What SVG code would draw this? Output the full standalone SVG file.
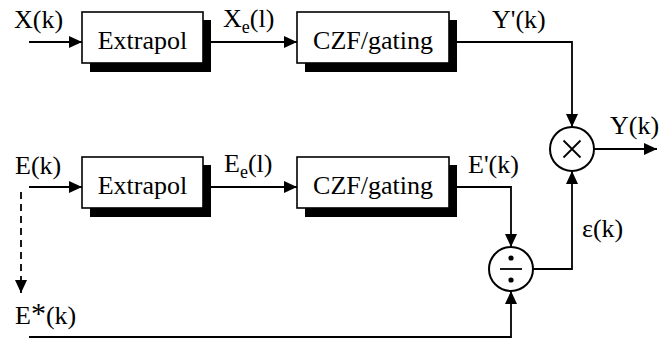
<svg xmlns="http://www.w3.org/2000/svg" width="669" height="341" viewBox="0 0 669 341">
<style>
text{font-family:'Liberation Serif','Times New Roman',serif;font-size:26px;fill:#000}
.box{fill:#fff;stroke:#000;stroke-width:1.6}
.sh{fill:#000}
.ln{fill:none;stroke:#000;stroke-width:1.8}
.cir{fill:#fff;stroke:#000;stroke-width:2}
.c{text-anchor:middle}
</style>
<defs>
<marker id="ah" markerUnits="userSpaceOnUse" markerWidth="14" markerHeight="12" refX="13" refY="6" orient="auto">
<path d="M0,0 L13,6 L0,12 Z" fill="#000"/>
</marker>
</defs>
<rect width="669" height="341" fill="#fff"/>
<g id="connectors">
<path class="ln" d="M29,42 H82" marker-end="url(#ah)"/>
<path class="ln" d="M204,42 H297" marker-end="url(#ah)"/>
<path class="ln" d="M449,42 H572 V127" marker-end="url(#ah)"/>
<path class="ln" d="M594,149 H657" marker-end="url(#ah)"/>
<path class="ln" d="M29,187 H82" marker-end="url(#ah)"/>
<path class="ln" d="M204,187 H297" marker-end="url(#ah)"/>
<path class="ln" d="M449,187 H511 V247" marker-end="url(#ah)"/>
<path class="ln" d="M533,269 H572 V171" marker-end="url(#ah)"/>
<path class="ln" d="M29,337 H511 V291" marker-end="url(#ah)"/>
<path class="ln" d="M21,192 V293" stroke-width="2.4" stroke-dasharray="7 5" marker-end="url(#ah)"/>
</g>
<g id="labels">
<text x="14" y="28">X(k)</text>
<text x="223" y="27">X<tspan font-size="18" dy="6">e</tspan><tspan dy="-6">(l)</tspan></text>
<text x="492" y="28">Y'(k)</text>
<text x="610" y="134">Y(k)</text>
<text x="15" y="174">E(k)</text>
<text x="224" y="172">E<tspan font-size="18" dy="6">e</tspan><tspan dy="-6">(l)</tspan></text>
<text x="468" y="173">E'(k)</text>
<text x="582" y="237">ε(k)</text>
<text x="15" y="324">E<tspan font-size="30" dy="-1">*</tspan><tspan dy="1">(k)</tspan></text>
</g>
<g id="extrapol1">
<rect class="sh" x="90" y="20" width="121" height="52"/>
<rect class="box" x="82" y="12" width="121" height="51"/>
<text class="c" x="142.5" y="49">Extrapol</text>
</g>
<g id="czf1">
<rect class="sh" x="305" y="20" width="152" height="52"/>
<rect class="box" x="297" y="12" width="152" height="51"/>
<text class="c" x="373" y="49">CZF/gating</text>
</g>
<g id="extrapol2">
<rect class="sh" x="90" y="165" width="121" height="52"/>
<rect class="box" x="82" y="157" width="121" height="51"/>
<text class="c" x="142.5" y="194">Extrapol</text>
</g>
<g id="czf2">
<rect class="sh" x="305" y="165" width="152" height="52"/>
<rect class="box" x="297" y="157" width="152" height="51"/>
<text class="c" x="373" y="194">CZF/gating</text>
</g>
<g id="multiply">
<circle class="cir" cx="572" cy="149" r="22"/>
<path class="ln" d="M563.5,140.5 L580.5,157.5 M580.5,140.5 L563.5,157.5" stroke-width="2.2"/>
</g>
<g id="divide">
<circle class="cir" cx="511" cy="269" r="22"/>
<path class="ln" d="M500,269 H522" stroke-width="2"/>
<circle cx="511" cy="258" r="2.6"/>
<circle cx="511" cy="280" r="2.6"/>
</g>
</svg>
